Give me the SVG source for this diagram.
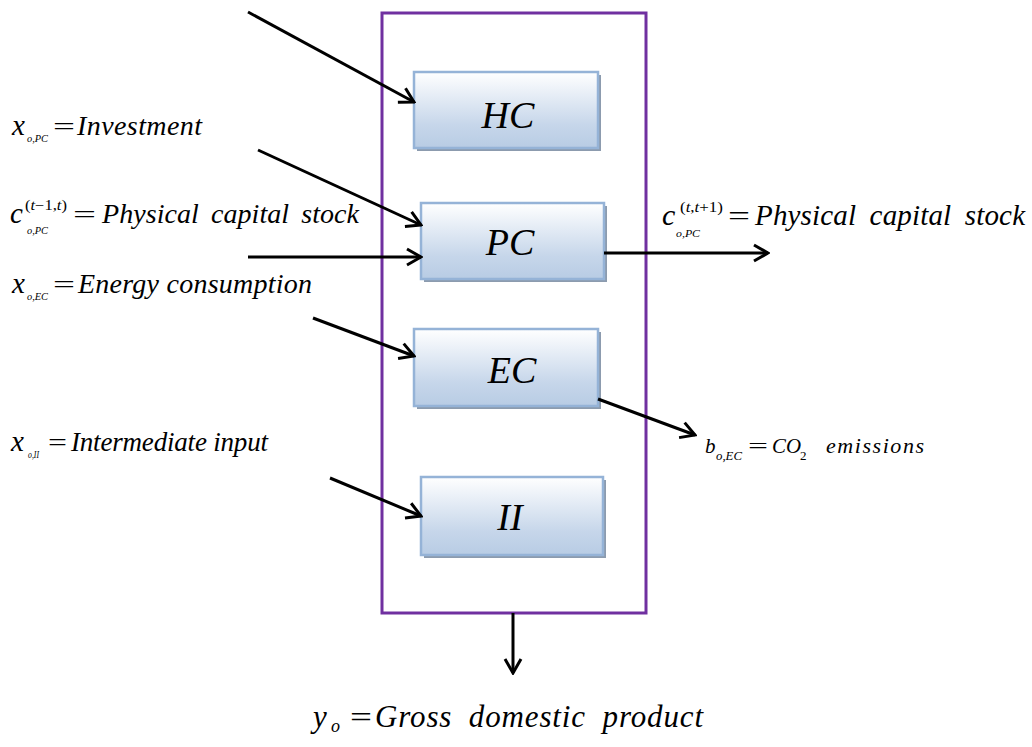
<svg xmlns="http://www.w3.org/2000/svg" width="1032" height="747" viewBox="0 0 1032 747">
<style>
.t{font-family:'Liberation Serif',serif;font-style:italic;fill:#000}
.n{font-family:'Liberation Serif',serif;font-style:normal;fill:#000}
.box{fill:url(#g);stroke:#95B3D7;stroke-width:2.5}
.sh{fill:#8C9BAE}
.c{stroke:#000;stroke-width:3;fill:none}
.lbl{font-size:38px}
</style>
<defs>
<linearGradient id="g" x1="0" y1="0" x2="0" y2="1">
<stop offset="0" stop-color="#FFFFFF"/>
<stop offset="0.7" stop-color="#C6D6EA"/>
<stop offset="1" stop-color="#B8CCE4"/>
</linearGradient>
<marker id="a" viewBox="0 0 20 20" refX="18" refY="10" markerWidth="20" markerHeight="20" markerUnits="userSpaceOnUse" orient="auto">
<path d="M4,2 L18,10 L4,18" fill="none" stroke="#000" stroke-width="3"/>
</marker>
</defs>
<rect width="1032" height="747" fill="#fff"/>
<g id="frame"><rect x="382" y="13" width="264" height="600" fill="none" stroke="#7030A0" stroke-width="3"/></g>
<g id="HC"><rect class="sh" x="417" y="75" width="184" height="76"/><rect class="box" x="414" y="72" width="184" height="76"/><text class="t lbl" x="508" y="128" text-anchor="middle">HC</text></g>
<g id="PC"><rect class="sh" x="424" y="206" width="183" height="76"/><rect class="box" x="421" y="203" width="183" height="76"/><text class="t lbl" x="510" y="255" text-anchor="middle">PC</text></g>
<g id="EC"><rect class="sh" x="417" y="332" width="184" height="77"/><rect class="box" x="414" y="329" width="184" height="77"/><text class="t lbl" x="512" y="383" text-anchor="middle">EC</text></g>
<g id="II"><rect class="sh" x="424" y="480" width="182" height="78"/><rect class="box" x="421" y="477" width="182" height="78"/><text class="t lbl" x="510" y="530" text-anchor="middle">II</text></g>
<g id="connectors">
<line class="c" x1="248" y1="12" x2="414" y2="102" marker-end="url(#a)"/>
<line class="c" x1="258" y1="150" x2="421" y2="225" marker-end="url(#a)"/>
<line class="c" x1="248" y1="257" x2="421" y2="257" marker-end="url(#a)"/>
<line class="c" x1="313" y1="318" x2="414" y2="356" marker-end="url(#a)"/>
<line class="c" x1="330" y1="478" x2="421" y2="516" marker-end="url(#a)"/>
<line class="c" x1="604" y1="253" x2="768" y2="253" marker-end="url(#a)"/>
<line class="c" x1="598" y1="399" x2="695" y2="435" marker-end="url(#a)"/>
<line class="c" x1="513" y1="613" x2="513" y2="673" marker-end="url(#a)"/>
</g>
<g id="labels">
<text class="t" font-size="29" x="12" y="135">x</text>
<text class="t" font-size="10" x="27" y="142" textLength="21" lengthAdjust="spacingAndGlyphs">o,PC</text>
<text class="n" font-size="26" x="53" y="135" textLength="22" lengthAdjust="spacingAndGlyphs">=</text>
<text class="t" font-size="28" x="77" y="135" textLength="125" lengthAdjust="spacing">Investment</text>

<text class="t" font-size="29" x="10" y="223">c</text>
<text class="n" font-size="14" x="25" y="210" textLength="42" lengthAdjust="spacingAndGlyphs">(<tspan class="t">t</tspan>−1,<tspan class="t">t</tspan>)</text>
<text class="t" font-size="10" x="27" y="234" textLength="21" lengthAdjust="spacingAndGlyphs">o,PC</text>
<text class="n" font-size="26" x="73" y="223" textLength="23" lengthAdjust="spacingAndGlyphs">=</text>
<text class="t" font-size="28" x="102" y="223" textLength="257" lengthAdjust="spacing" word-spacing="5">Physical capital stock</text>

<text class="t" font-size="29" x="12" y="293">x</text>
<text class="t" font-size="10" x="27" y="300" textLength="21" lengthAdjust="spacingAndGlyphs">o,EC</text>
<text class="n" font-size="26" x="53" y="293" textLength="22" lengthAdjust="spacingAndGlyphs">=</text>
<text class="t" font-size="28" x="78" y="293" textLength="234" lengthAdjust="spacing">Energy consumption</text>

<text class="t" font-size="29" x="11" y="451">x</text>
<text class="t" font-size="10" x="28" y="458" textLength="11" lengthAdjust="spacingAndGlyphs">o,II</text>
<text class="n" font-size="26" x="48" y="451" textLength="19" lengthAdjust="spacingAndGlyphs">=</text>
<text class="t" font-size="27" x="71" y="451" textLength="197" lengthAdjust="spacing">Intermediate input</text>

<text class="t" font-size="30" x="662" y="225">c</text>
<text class="n" font-size="15" x="680" y="212" textLength="43" lengthAdjust="spacingAndGlyphs">(<tspan class="t">t</tspan>,<tspan class="t">t</tspan>+1)</text>
<text class="t" font-size="10" x="676" y="237" textLength="24" lengthAdjust="spacingAndGlyphs">o,PC</text>
<text class="n" font-size="27" x="728" y="225" textLength="22" lengthAdjust="spacingAndGlyphs">=</text>
<text class="t" font-size="29" x="755" y="225" textLength="270" lengthAdjust="spacing" word-spacing="6">Physical capital stock</text>

<text class="t" font-size="21" x="705" y="453">b</text>
<text class="t" font-size="13" x="716" y="460" textLength="26" lengthAdjust="spacingAndGlyphs">o,EC</text>
<text class="n" font-size="20" x="748" y="453" textLength="20" lengthAdjust="spacingAndGlyphs">=</text>
<text class="t" font-size="21" x="772" y="453" textLength="29" lengthAdjust="spacingAndGlyphs">CO</text>
<text class="n" font-size="13" x="800" y="460">2</text>
<text class="t" font-size="22" x="826" y="453" textLength="98" lengthAdjust="spacing">emissions</text>

<text class="t" font-size="31" x="313" y="727">y</text>
<text class="t" font-size="18" x="331" y="732">o</text>
<text class="n" font-size="29" x="350" y="727" textLength="22" lengthAdjust="spacingAndGlyphs">=</text>
<text class="t" font-size="31" x="375" y="727" textLength="328" lengthAdjust="spacing" word-spacing="8">Gross domestic product</text>
</g>
</svg>
